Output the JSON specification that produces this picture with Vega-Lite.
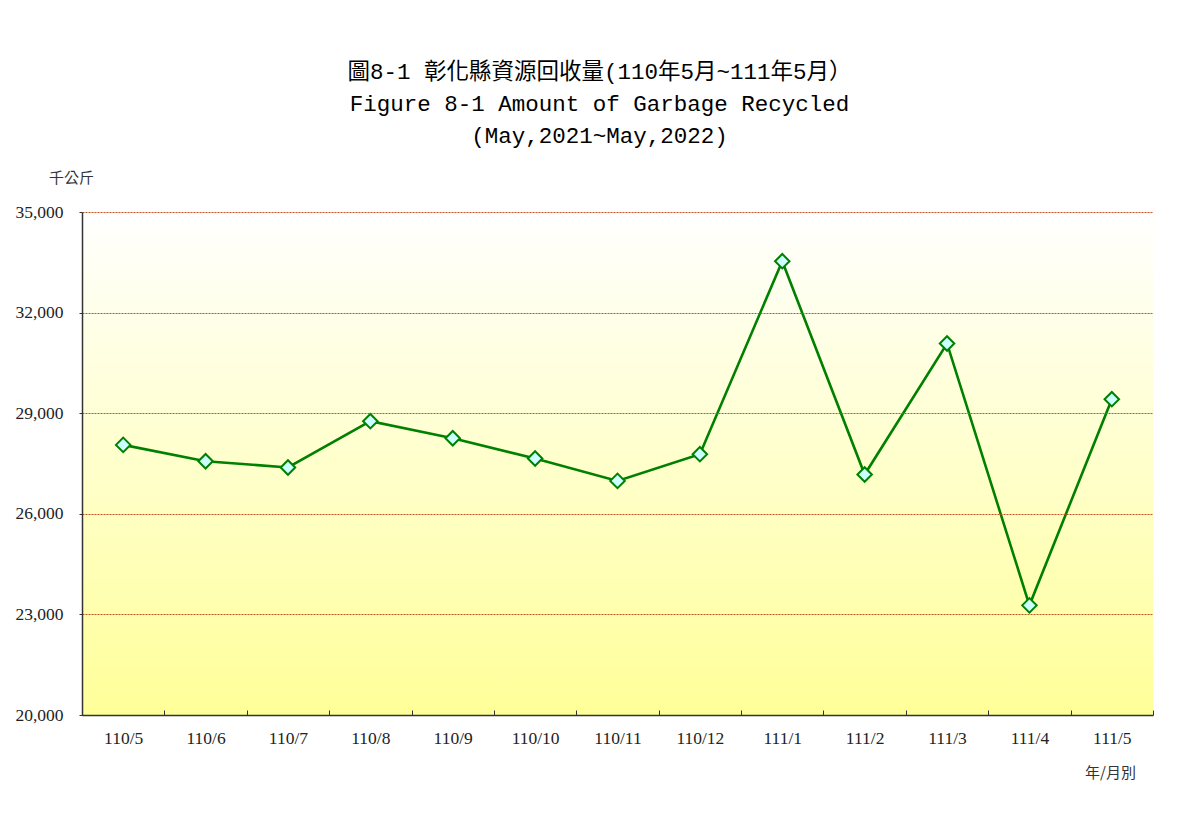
{
  "$schema": "https://vega.github.io/schema/vega-lite/v6.json",
  "width": 1071,
  "height": 503,
  "autosize": {"type": "none"},
  "padding": {"left": 82, "top": 212, "right": 45, "bottom": 103},
  "background": "white",
  "title": {
    "text": ["圖8-1 彰化縣資源回收量(110年5月~111年5月）", "Figure 8-1 Amount of Garbage Recycled", "(May,2021~May,2022)"],
    "font": "Liberation Mono, Noto Sans CJK TC",
    "fontSize": 22.5,
    "fontWeight": "normal",
    "color": "#000000",
    "lineHeight": 32,
    "anchor": "middle",
    "dx": -18,
    "offset": 23
  },
  "data": {
    "values": [
      {"month": "110/5", "value": 28055},
      {"month": "110/6", "value": 27568},
      {"month": "110/7", "value": 27381},
      {"month": "110/8", "value": 28761},
      {"month": "110/9", "value": 28254},
      {"month": "110/10", "value": 27649},
      {"month": "110/11", "value": 26981},
      {"month": "110/12", "value": 27777},
      {"month": "111/1", "value": 33533},
      {"month": "111/2", "value": 27172},
      {"month": "111/3", "value": 31079},
      {"month": "111/4", "value": 23270},
      {"month": "111/5", "value": 29418}
    ]
  },
  "layer": [
    {
      "mark": {
        "type": "rect",
        "fill": {
          "gradient": "linear",
          "x1": 0, "y1": 0, "x2": 0, "y2": 1,
          "stops": [
            {"offset": 0, "color": "#ffffff"},
            {"offset": 1, "color": "#ffff99"}
          ]
        }
      },
      "encoding": {
        "y": {"datum": 35000, "type": "quantitative"},
        "y2": {"datum": 20000}
      }
    },
    {
      "mark": {
        "type": "line",
        "color": "#008000",
        "strokeWidth": 2.6,
        "point": {
          "shape": "diamond",
          "size": 210,
          "filled": true,
          "fill": "#ccffff",
          "stroke": "#008000",
          "strokeWidth": 2,
          "opacity": 1
        }
      },
      "encoding": {
        "x": {
          "field": "month",
          "type": "ordinal",
          "sort": null,
          "scale": {"type": "band", "paddingInner": 0, "paddingOuter": 0},
          "axis": {
            "title": "年/月別",
            "titleFont": "Noto Sans CJK TC",
            "titleFontSize": 15,
            "titleFontWeight": "normal",
            "titleColor": "#333333",
            "titleAnchor": "start",
            "titleAlign": "center",
            "titleBaseline": "middle",
            "titleX": 1028,
            "titleY": 57,
            "labelAngle": 0,
            "labelFont": "Liberation Serif",
            "labelFontSize": 17.5,
            "labelColor": "#222222",
            "labelPadding": 19,
            "tickBand": "extent",
            "tickSize": -5,
            "tickColor": "#333333",
            "domainColor": "#333333",
            "domainWidth": 1.5,
            "grid": false,
            "zindex": 1
          }
        },
        "y": {
          "field": "value",
          "type": "quantitative",
          "scale": {"domain": [20000, 35000], "nice": false, "zero": false},
          "axis": {
            "title": "千公斤",
            "titleFont": "Noto Sans CJK TC",
            "titleFontSize": 15,
            "titleFontWeight": "normal",
            "titleColor": "#333333",
            "titleAngle": 0,
            "titleAlign": "center",
            "titleBaseline": "middle",
            "titleAnchor": "start",
            "titleX": -11,
            "titleY": -35,
            "values": [20000, 23000, 26000, 29000, 32000, 35000],
            "labelExpr": "format(datum.value, ',')",
            "labelFont": "Liberation Serif",
            "labelFontSize": 17.5,
            "labelColor": "#222222",
            "labelPadding": 16,
            "tickSize": 3,
            "tickColor": "#333333",
            "domainColor": "#333333",
            "domainWidth": 1.5,
            "grid": true,
            "gridColor": "#c4501e",
            "gridDash": [2, 1],
            "gridWidth": 1,
            "zindex": 1
          }
        }
      }
    }
  ],
  "config": {
    "view": {"stroke": null}
  }
}
